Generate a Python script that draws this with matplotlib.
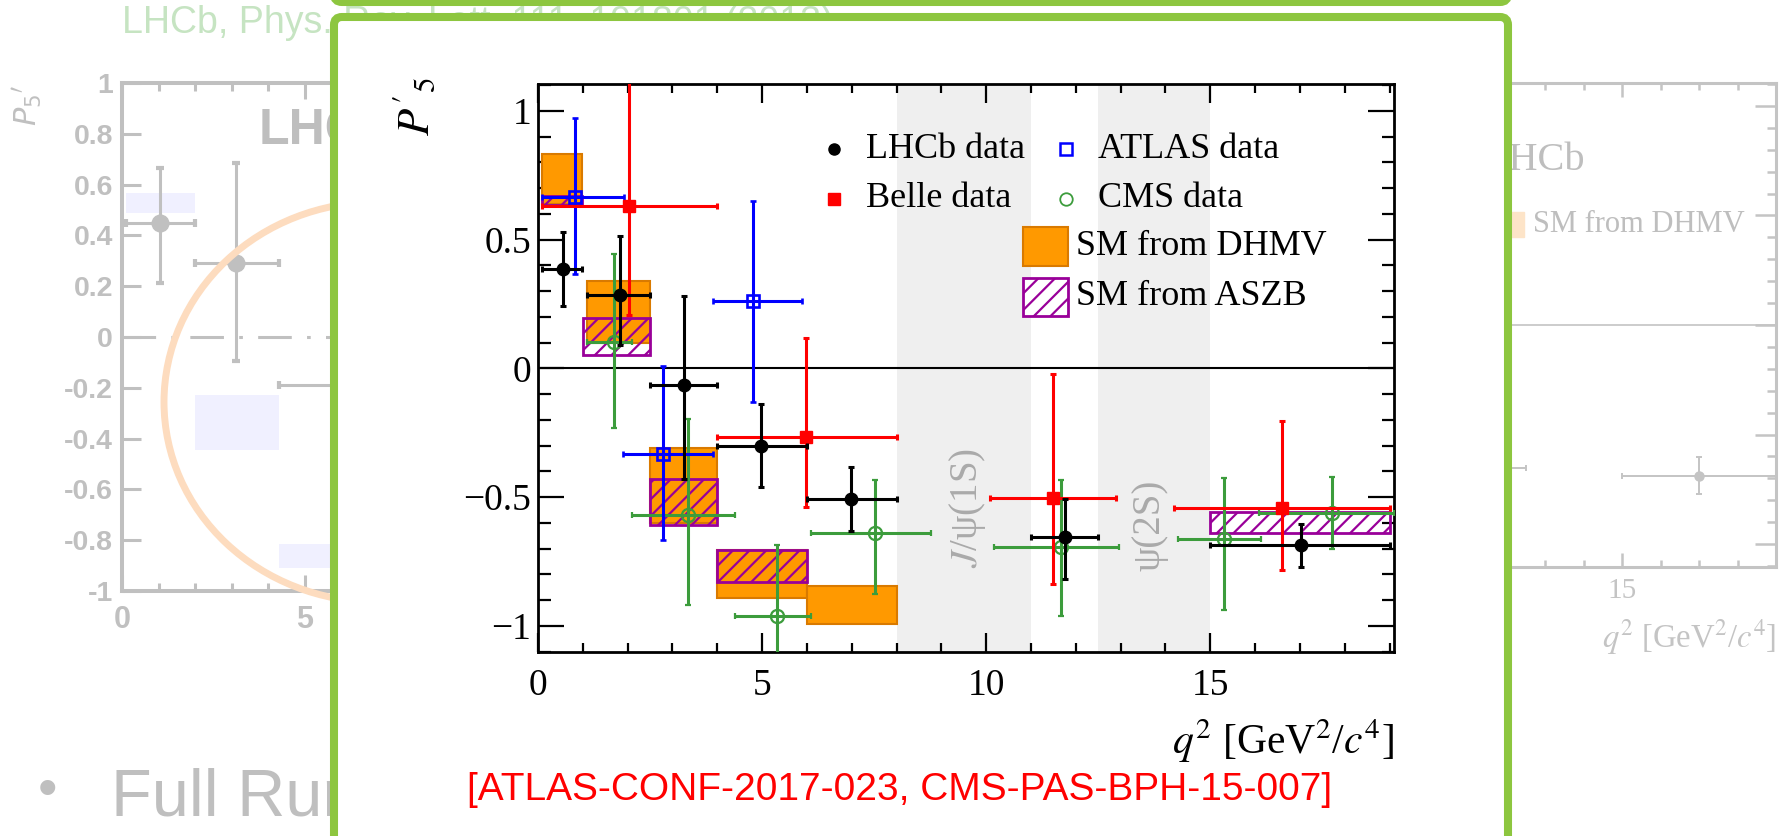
"P5' comparison slide"
import numpy as np
import matplotlib
matplotlib.use("Agg")
from matplotlib import pyplot as plt
from matplotlib.patches import Rectangle, Ellipse, FancyBboxPatch
from matplotlib.ticker import MultipleLocator

plt.rcParams['font.family'] = ['Liberation Serif', 'DejaVu Serif']
plt.rcParams['mathtext.fontset'] = 'stix'
plt.rcParams['hatch.linewidth'] = 1.6

W, H = 1787, 836

# ---- main plot data ----
lhcb_x = [0.55, 1.82, 3.25, 4.98, 6.98, 11.77, 17.02]
lhcb_lo = [0.1, 1.1, 2.5, 4.0, 6.0, 11.0, 15.0]
lhcb_hi = [0.98, 2.5, 4.0, 6.0, 8.0, 12.5, 19.0]
lhcb_y = [0.385, 0.286, -0.065, -0.302, -0.508, -0.654, -0.686]
lhcb_yup = [0.529, 0.512, 0.28, -0.14, -0.382, -0.509, -0.605]
lhcb_ydn = [0.241, 0.09, -0.431, -0.462, -0.632, -0.819, -0.771]

belle_x = [2.04, 5.98, 11.5, 16.6]
belle_lo = [0.1, 4.0, 10.09, 14.18]
belle_hi = [4.0, 8.0, 12.9, 19.0]
belle_y = [0.63, -0.268, -0.505, -0.544]
belle_yup = [1.25, 0.119, -0.022, -0.203]
belle_ydn = [0.206, -0.538, -0.836, -0.781]

atlas_x = [0.83, 2.8, 4.79]
atlas_lo = [0.09, 1.9, 3.9]
atlas_hi = [1.92, 3.9, 5.9]
atlas_y = [0.665, -0.332, 0.261]
atlas_yup = [0.972, 0.009, 0.648]
atlas_ydn = [0.365, -0.667, -0.13]

cms_x = [1.70, 3.34, 5.34, 7.53, 11.68, 15.3, 17.72]
cms_lo = [1.1, 2.1, 4.4, 6.1, 10.17, 14.28, 16.09]
cms_hi = [2.1, 4.4, 6.1, 8.78, 12.97, 16.13, 19.1]
cms_y = [0.103, -0.57, -0.961, -0.639, -0.693, -0.663, -0.561]
cms_yup = [0.443, -0.198, -0.687, -0.434, -0.434, -0.427, -0.421]
cms_ydn = [-0.233, -0.917, -1.3, -0.877, -0.961, -0.939, -0.703]

dhmv_xlo = [0.1, 1.1, 2.5, 4.0, 6.0]
dhmv_xhi = [0.98, 2.5, 4.0, 6.0, 8.0]
dhmv_lo = [0.64, 0.097, -0.60, -0.89, -0.994]
dhmv_hi = [0.832, 0.339, -0.308, -0.706, -0.846]

aszb_xlo = [0.1, 1.0, 2.5, 4.0, 15.0]
aszb_xhi = [0.98, 2.5, 4.0, 6.0, 19.0]
aszb_lo = [0.636, 0.052, -0.609, -0.829, -0.639]
aszb_hi = [0.671, 0.194, -0.431, -0.706, -0.557]

vetoes = [(8.0, 11.0), (12.5, 15.0)]

# ---- faded background plots ----
bgl_x = [1.04, 3.11, 6.5]
bgl_lo = [0.1, 2.0, 4.3]
bgl_hi = [2.0, 4.3, 8.68]
bgl_y = [0.45, 0.29, -0.19]
bgl_yup = [0.667, 0.685, -0.06]
bgl_ydn = [0.212, -0.093, -0.32]
bgl_sm_lo = [0.49, -0.445, -0.91]
bgl_sm_hi = [0.565, -0.23, -0.816]
bgl_yticks = [-1, -0.8, -0.6, -0.4, -0.2, 0, 0.2, 0.4, 0.6, 0.8, 1]
bgl_ylabels = ['-1', '-0.8', '-0.6', '-0.4', '-0.2', '0', '0.2', '0.4', '0.6', '0.8', '1']
bgl_xticks = [0, 5]
bgl_xlabels = ['0', '5']

bgr_x = [11.75, 17.0]
bgr_lo = [11.0, 15.0]
bgr_hi = [12.5, 19.0]
bgr_y = [-0.653, -0.688]
bgr_yup = [-0.5, -0.603]
bgr_ydn = [-0.82, -0.772]
bgr_xticks = [15]
bgr_xlabels = ['15']

xt = [0, 5, 10, 15]
xt_labels = ['0', '5', '10', '15']
yt = [-1, -0.5, 0, 0.5, 1]
yt_labels = ['\u22121', '\u22120.5', '0', '0.5', '1']


def points(ax, x, lo, hi, y, ydn, yup, **kw):
    x, lo, hi = np.array(x), np.array(lo), np.array(hi)
    y, ydn, yup = np.array(y), np.array(ydn), np.array(yup)
    return ax.errorbar(x, y, xerr=[x - lo, hi - x], yerr=[y - ydn, yup - y], **kw)


def boxes(ax, xlo, xhi, lo, hi, **kw):
    xlo, xhi, lo, hi = np.array(xlo), np.array(xhi), np.array(lo), np.array(hi)
    return ax.bar(xlo, hi - lo, width=xhi - xlo, bottom=lo, align='edge', **kw)


fig = plt.figure(figsize=(W / 100, H / 100), dpi=100)
fig.patch.set_facecolor('white')

# left faded LHCb 2013 plot
gray = '#c0c0c0'
axl = fig.add_axes([122 / W, 1 - 591 / H, 695 / W, 508 / H], zorder=0)
axl.set_xlim(0, 19)
axl.set_ylim(-1, 1)
for s in axl.spines.values():
    s.set_color(gray)
    s.set_linewidth(2.9)
axl.set_yticks(bgl_yticks, bgl_ylabels)
axl.set_xticks(bgl_xticks, bgl_xlabels)
axl.xaxis.set_minor_locator(MultipleLocator(1))
axl.tick_params(axis='y', direction='in', length=13.7, width=2.2, color=gray,
                labelcolor=gray, labelsize=20.5, pad=6.5)
axl.tick_params(axis='x', which='major', direction='in', length=11.5, width=2.2,
                color=gray, labelcolor=gray, labelsize=22, pad=10, top=True)
axl.tick_params(axis='x', which='minor', direction='in', length=5.8, width=2.2,
                color=gray, top=True)
for lab in axl.get_xticklabels() + axl.get_yticklabels():
    lab.set_fontfamily('Liberation Sans')
    lab.set_fontweight('bold')
boxes(axl, bgl_lo, bgl_hi, bgl_sm_lo, bgl_sm_hi, color='#f0f0ff', zorder=1)
axl.axhline(0, color=gray, lw=2.2, ls=(0, (11, 5, 1.2, 5)), zorder=2)
points(axl, bgl_x, bgl_lo, bgl_hi, bgl_y, bgl_ydn, bgl_yup, fmt='o', color=gray,
       ms=12, elinewidth=2.2, capsize=3, capthick=3, zorder=3)
axl.text(0.196, 0.905, 'LHCb', transform=axl.transAxes, fontsize=36,
         fontweight='bold', family='Liberation Sans', color='#bebebe', va='center')

# right faded LHCb 2015 plot
gray_r = '#c4c4c4'
axr = fig.add_axes([1044.5 / W, 1 - 567 / H, 731.5 / W, 484 / H], zorder=0)
axr.set_xlim(0, 19)
axr.set_ylim(-1.105, 1.105)
for s in axr.spines.values():
    s.set_color(gray_r)
    s.set_linewidth(2.2)
axr.set_xticks(bgr_xticks, bgr_xlabels)
axr.set_yticks(yt)
axr.xaxis.set_minor_locator(MultipleLocator(1))
axr.yaxis.set_minor_locator(MultipleLocator(0.1))
axr.tick_params(which='both', direction='in', color=gray_r, labelcolor=gray_r,
                labelsize=21, width=1.8, top=True, right=True, labelleft=False)
axr.tick_params(axis='x', which='major', length=10, pad=8)
axr.tick_params(axis='x', which='minor', length=5)
axr.tick_params(axis='y', which='major', length=15)
axr.tick_params(axis='y', which='minor', length=6.7)
axr.axhline(0, color=gray_r, lw=1.2)
points(axr, bgr_x, bgr_lo, bgr_hi, bgr_y, bgr_ydn, bgr_yup, fmt='o', color=gray_r,
       ms=6.5, elinewidth=1.4, capsize=2, capthick=1.4)
axr.text(1.0, -0.145, r"$q^2$ [GeV$^2$/$c^4$]", transform=axr.transAxes,
         ha='right', va='center', fontsize=23.5, color=gray_r)

# slide decorations in pixel coordinates
deco = fig.add_axes([0, 0, 1, 1], zorder=1)
deco.set_xlim(0, W)
deco.set_ylim(H, 0)
deco.axis('off')
deco.add_patch(Ellipse((377, 402), 426, 400, fill=False, ec='#fddcbf', lw=5, zorder=1))
deco.text(122, 23, 'LHCb, Phys. Rev. Lett. 111, 191801 (2013)', family='Liberation Sans',
          fontsize=27, color='#c6e4c2', va='center', ha='left', zorder=1)
deco.text(28, 106, r"$P_5{}'$", rotation=90, fontsize=22, color=gray, style='italic',
          ha='center', va='center', math_fontfamily='dejavusans', zorder=1)
deco.text(48, 792, '\u2022', family='Liberation Sans', fontsize=40, color='#bfbfbf',
          ha='center', va='center', zorder=1)
deco.text(111, 816, 'Full Run', family='Liberation Sans', fontsize=48, color='#bfbfbf',
          ha='left', va='baseline', zorder=1)
deco.text(1586, 160, 'LHCb', fontsize=29, color='#bebebe', ha='right', va='center', zorder=1)
deco.add_patch(Rectangle((1500, 212), 24, 25, color='#fde4c8', zorder=1))
deco.text(1533, 225, 'SM from DHMV', fontsize=22, color='#bebebe', ha='left', va='center',
          zorder=1)
green = '#8dc63f'
deco.add_patch(FancyBboxPatch((334, -300), 1174, 302, boxstyle='round,pad=0,rounding_size=8',
                              fc='white', ec=green, lw=5.8, zorder=5))
deco.add_patch(FancyBboxPatch((334, 17), 1174, 900, boxstyle='round,pad=0,rounding_size=8',
                              fc='white', ec=green, lw=5.8, zorder=5))
deco.text(900, 790, '[ATLAS-CONF-2017-023, CMS-PAS-BPH-15-007]', family='Liberation Sans',
          fontsize=28, color='#ff0000', ha='center', va='center', zorder=6)

# main comparison plot
ax = fig.add_axes([538 / W, 1 - 651.7 / H, 856 / W, 567.7 / H], zorder=2)
ax.set_xlim(0, 19.1)
ax.set_ylim(-1.1, 1.104)
for s in ax.spines.values():
    s.set_linewidth(2.0)
ax.set_xticks(xt, xt_labels)
ax.set_yticks(yt, yt_labels)
ax.xaxis.set_minor_locator(MultipleLocator(1))
ax.yaxis.set_minor_locator(MultipleLocator(0.1))
ax.tick_params(which='both', direction='in', width=1.6, top=True, right=True,
               labelsize=27)
ax.tick_params(axis='x', which='major', length=13.5, pad=12)
ax.tick_params(axis='x', which='minor', length=6.7)
ax.tick_params(axis='y', which='major', length=18.5, pad=5)
ax.tick_params(axis='y', which='minor', length=9)

for a, b in vetoes:
    ax.axvspan(a, b, color='#efefef', lw=0, zorder=0)
ax.axhline(0, color='black', lw=1.5, zorder=1)
ax.text(9.58, -0.543, "$J$/\u03c8(1S)", rotation=90, fontsize=28, color='#aaaaaa',
        ha='center', va='center', zorder=1)
ax.text(13.66, -0.608, "\u03c8(2S)", rotation=90, fontsize=28, color='#aaaaaa',
        ha='center', va='center', zorder=1)

orange, orange_edge, purple = '#ff9900', '#d97a00', '#990099'
boxes(ax, dhmv_xlo, dhmv_xhi, dhmv_lo, dhmv_hi, facecolor=orange, edgecolor=orange_edge,
      lw=1.5, zorder=2)
boxes(ax, aszb_xlo, aszb_xhi, aszb_lo, aszb_hi, facecolor='none', edgecolor=purple,
      hatch='//', lw=2.0, zorder=3)

ebkw = dict(elinewidth=2.2, capsize=2.5, capthick=2.2)
points(ax, cms_x, cms_lo, cms_hi, cms_y, cms_ydn, cms_yup, fmt='o', color='#3c9c3c',
       ms=9.5, mfc='none', mew=1.6, zorder=4, **ebkw)
points(ax, atlas_x, atlas_lo, atlas_hi, atlas_y, atlas_ydn, atlas_yup, fmt='s', color='#0000ff',
       ms=8.5, mfc='none', mew=1.9, zorder=5, **ebkw)
points(ax, belle_x, belle_lo, belle_hi, belle_y, belle_ydn, belle_yup, fmt='s', color='#ff0000',
       ms=8.5, zorder=6, **ebkw)
points(ax, lhcb_x, lhcb_lo, lhcb_hi, lhcb_y, lhcb_ydn, lhcb_yup, fmt='o', color='black',
       ms=9, zorder=7, **ebkw)

# legend drawn by hand
tr = ax.transAxes
ax.plot([0.346], [0.8855], 'o', color='black', ms=8, transform=tr)
ax.plot([0.346], [0.798], 's', color='#ff0000', ms=8, transform=tr)
ax.plot([0.617], [0.8855], 's', color='#0000ff', mfc='none', mew=1.8, ms=9, transform=tr)
ax.plot([0.617], [0.798], 'o', color='#3c9c3c', mfc='none', mew=1.3, ms=9, transform=tr)
lkw = dict(transform=tr, fontsize=26, ha='left', va='center')
ax.text(0.383, 0.8855, 'LHCb data', **lkw)
ax.text(0.383, 0.798, 'Belle data', **lkw)
ax.text(0.654, 0.8855, 'ATLAS data', **lkw)
ax.text(0.654, 0.798, 'CMS data', **lkw)
ax.add_patch(Rectangle((0.5666, 0.679), 0.052, 0.069, transform=tr, facecolor=orange,
                       edgecolor=orange_edge, lw=1.5, zorder=8))
ax.add_patch(Rectangle((0.5666, 0.591), 0.052, 0.067, transform=tr, facecolor='white',
                       edgecolor=purple, hatch='//', lw=2.0, zorder=8))
ax.text(0.6285, 0.713, 'SM from DHMV', **lkw)
ax.text(0.6285, 0.625, 'SM from ASZB', **lkw)

ax.text(-0.144, 0.961, r"$P'{}_5$", transform=tr, rotation=90, fontsize=32,
        ha='center', va='center')
ax.text(1.0, -0.157, r"$q^2$ [GeV$^2$/$c^4$]", transform=tr, ha='right', va='center',
        fontsize=30)

fig.savefig('out.png', dpi=100)
